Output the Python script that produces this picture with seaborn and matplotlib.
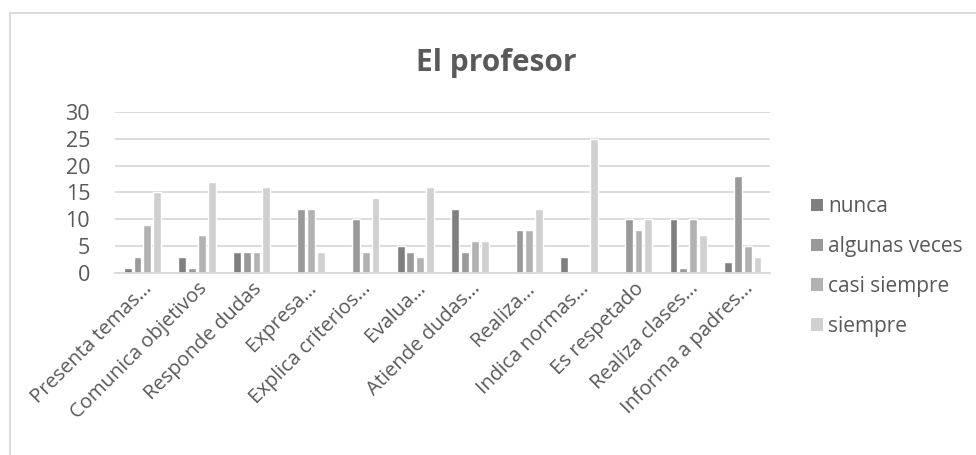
import matplotlib
matplotlib.use("Agg")
import matplotlib.pyplot as plt
import seaborn as sns
import pandas as pd
from matplotlib.patches import Rectangle, Patch

categories = [
    "Presenta temas…", "Comunica objetivos", "Responde dudas", "Expresa…",
    "Explica criterios…", "Evalua…", "Atiende dudas…", "Realiza…",
    "Indica normas…", "Es respetado", "Realiza clases…", "Informa a padres…",
]
series_names = ["nunca", "algunas veces", "casi siempre", "siempre"]
nunca = [1, 3, 4, 0, 0, 5, 12, 0, 3, 0, 10, 2]
algunas_veces = [3, 1, 4, 12, 10, 4, 4, 8, 0, 10, 1, 18]
casi_siempre = [9, 7, 4, 12, 4, 3, 6, 8, 0, 8, 10, 5]
siempre = [15, 17, 16, 4, 14, 16, 6, 12, 25, 10, 7, 3]
yticks = [0, 5, 10, 15, 20, 25, 30]

colors = ["#7f7f7f", "#999999", "#b2b2b2", "#d0d0d0"]
text_color = "#595959"

sns.set_theme(style="white")
plt.rcParams["font.family"] = ["Open Sans", "DejaVu Sans"]

rows = []
for name, vals in zip(series_names, [nunca, algunas_veces, casi_siempre, siempre]):
    for cat, v in zip(categories, vals):
        rows.append({"categoria": cat, "respuesta": name, "valor": v})
df = pd.DataFrame(rows)

fig = plt.figure(figsize=(9.76, 4.55), dpi=100)
ax = fig.add_axes([0.118, 0.40, 0.671, 0.354])

sns.barplot(data=df, x="categoria", y="valor", hue="respuesta",
            order=categories, hue_order=series_names, palette=colors,
            width=0.72, gap=0.2, saturation=1, ax=ax, errorbar=None,
            legend=False)

ax.set_ylim(0, 30)
ax.set_yticks(yticks)
ax.set_xlim(-0.5, len(categories) - 0.5)
ax.yaxis.grid(True, color="#d9d9d9", linewidth=1.3)
ax.set_axisbelow(True)
for s in ["top", "right", "left"]:
    ax.spines[s].set_visible(False)
ax.spines["bottom"].set_color("#d9d9d9")
ax.spines["bottom"].set_linewidth(1.3)
ax.set_xlabel("")
ax.set_ylabel("")
ax.tick_params(axis="y", labelsize=15.5, labelcolor=text_color, length=0, pad=18)
ax.tick_params(axis="x", labelsize=14.5, labelcolor=text_color, length=0, pad=4)
plt.setp(ax.get_xticklabels(), rotation=45, ha="right", rotation_mode="anchor")

handles = [Patch(facecolor=c, edgecolor="none") for c in colors]
leg = ax.legend(handles, series_names, loc="center left", bbox_to_anchor=(1.063, 0.04),
                frameon=False, fontsize=15, labelspacing=0.9,
                borderpad=0, borderaxespad=0,
                handlelength=0.55, handleheight=0.55, handletextpad=0.25,
                labelcolor=text_color)

fig.text(0.508, 0.862, "El profesor", ha="center", va="center",
         fontsize=21.5, fontweight="bold", color=text_color)

fig.patches.append(Rectangle((10 / 976, -0.05), 1.2, 1 - 13 / 455 + 0.05,
                             transform=fig.transFigure, fill=False,
                             edgecolor="#d9d9d9", linewidth=1.3))

fig.savefig("out.png", dpi=100)
